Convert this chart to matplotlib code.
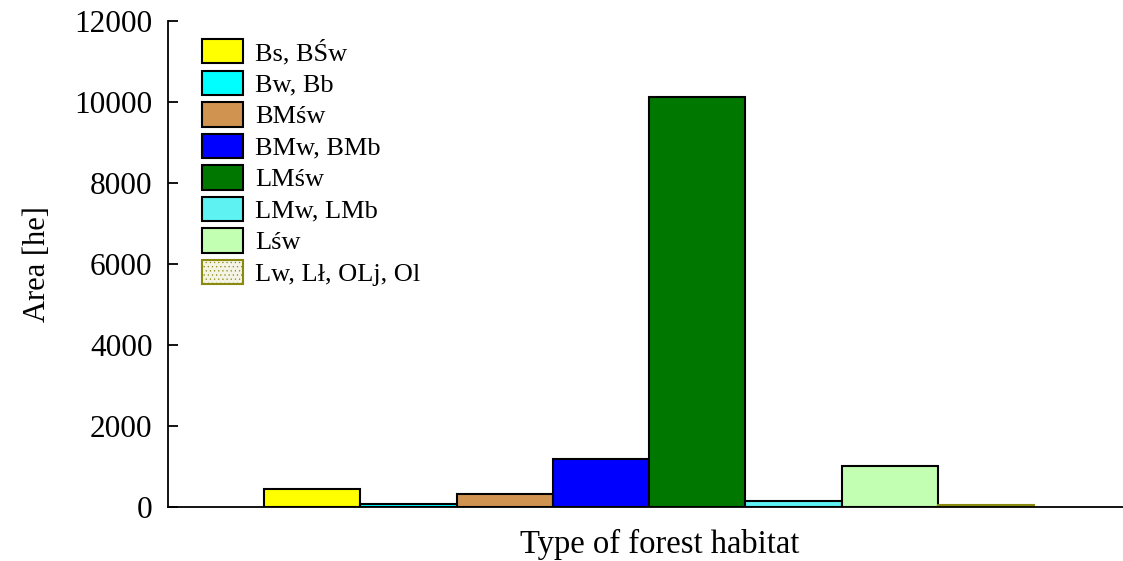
import numpy as np
import matplotlib
matplotlib.use("Agg")
import matplotlib.pyplot as plt

plt.rcParams['font.family'] = ['Liberation Serif', 'DejaVu Serif']
plt.rcParams['hatch.linewidth'] = 0.4

# forest habitat groups and their area
habitats = ["Bs, BŚw", "Bw, Bb", "BMśw", "BMw, BMb", "LMśw", "LMw, LMb", "Lśw", "Lw, Lł, OLj, Ol"]
area = [453, 82, 330, 1188, 10120, 140, 1022, 50]

colors = ["#ffff00", "#00ffff", "#d09450", "#0000ff", "#007800", "#5ff2f2", "#c2ffb2", "#f4f4e6"]
edges = ["black"] * 7 + ["#8a8a10"]
hatches = [None] * 7 + ["...."]

fig = plt.figure(figsize=(11.23, 5.61), dpi=100)
ax = fig.add_axes([0.1493, 0.0963, 0.8575, 0.8663])

pos = np.arange(len(habitats)) + 1.5
for i in range(len(habitats)):
    ax.bar(pos[i], area[i], width=1.0, color=colors[i], edgecolor=edges[i],
           linewidth=1.5, hatch=hatches[i], label=habitats[i], zorder=2)

ax.set_xlim(0, 10)
ax.set_ylim(0, 12000)
ax.set_yticks(np.arange(0, 12001, 2000))
ax.set_xticks([])
ax.spines['top'].set_visible(False)
ax.spines['right'].set_visible(False)
ax.spines['left'].set_linewidth(1.3)
ax.spines['bottom'].set_linewidth(1.3)
ax.tick_params(axis='y', direction='in', length=7, width=1.3, labelsize=22.5, pad=11)

ax.set_ylabel("Area [he]", fontsize=22, labelpad=16)
ax.set_xlabel("Type of forest habitat", fontsize=23.5)
ax.xaxis.set_label_coords(0.511, -0.045)

leg = ax.legend(loc='upper left', bbox_to_anchor=(202 / 1123, 1 - 39 / 561),
                bbox_transform=fig.transFigure, frameon=False, fontsize=19,
                handlelength=1.55, handleheight=1.05, handletextpad=0.45,
                labelspacing=0.2, borderpad=0, borderaxespad=0)

fig.savefig("out.png", dpi=100)
